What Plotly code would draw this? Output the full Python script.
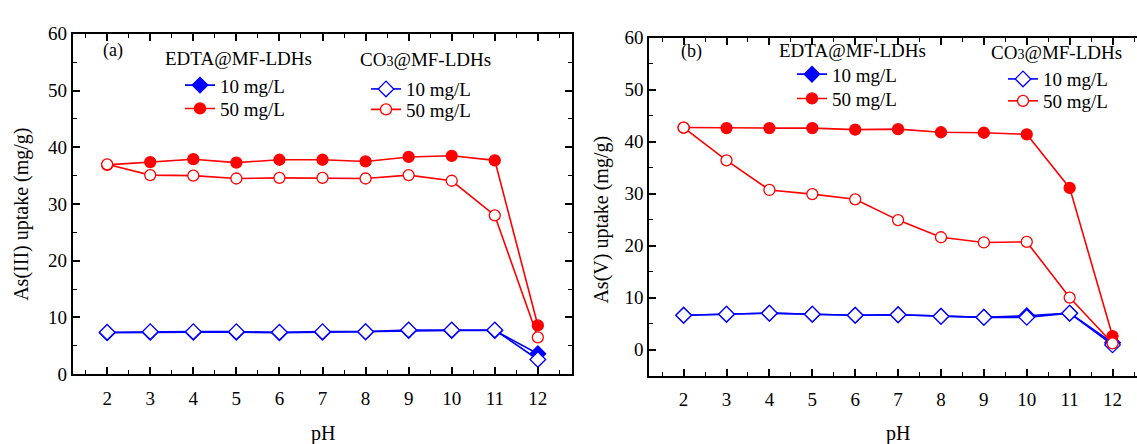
import plotly.graph_objects as go

# pH values shared by both panels
ph = [2, 3, 4, 5, 6, 7, 8, 9, 10, 11, 12]

# (a) As(III) uptake (mg/g)
as3_edta_10 = [7.3, 7.4, 7.4, 7.4, 7.3, 7.4, 7.5, 7.7, 7.7, 7.7, 3.6]
as3_edta_50 = [36.9, 37.4, 37.9, 37.3, 37.8, 37.8, 37.5, 38.3, 38.5, 37.7, 8.6]
as3_co3_10 = [7.4, 7.5, 7.5, 7.5, 7.4, 7.5, 7.5, 7.8, 7.8, 7.8, 2.6]
as3_co3_50 = [37.0, 35.1, 35.0, 34.5, 34.6, 34.6, 34.5, 35.1, 34.1, 28.0, 6.5]

# (b) As(V) uptake (mg/g)
as5_edta_10 = [6.6, 6.8, 7.0, 6.8, 6.6, 6.7, 6.4, 6.2, 6.5, 7.0, 1.3]
as5_edta_50 = [42.7, 42.6, 42.6, 42.6, 42.3, 42.4, 41.8, 41.7, 41.4, 31.1, 2.6]
as5_co3_10 = [6.6, 6.8, 7.0, 6.8, 6.6, 6.7, 6.4, 6.2, 6.2, 7.0, 0.9]
as5_co3_50 = [42.7, 36.4, 30.7, 29.9, 28.9, 24.9, 21.6, 20.6, 20.7, 10.0, 1.2]

x_ticks = [2, 3, 4, 5, 6, 7, 8, 9, 10, 11, 12]
y_ticks = [0, 10, 20, 30, 40, 50, 60]

FONT = "Liberation Serif"
BLUE = "#0000ff"
RED = "#ff0000"

W, H = 1137, 444


def px_x(p):
    return p / W


def px_y(p):
    return 1 - p / H


fig = go.Figure()


def add_series(xa, ya, y, color, symbol, filled, name, legend):
    fig.add_trace(go.Scatter(
        x=ph, y=y, xaxis=xa, yaxis=ya, name=name, legend=legend,
        mode="lines+markers",
        line=dict(color=color, width=1.6),
        marker=dict(symbol=symbol, size=12 if symbol == "diamond" else 11,
                    color=color if filled else "white",
                    line=dict(color=color, width=1.3)),
        cliponaxis=False,
    ))


# panel (a): one small legend box per entry
add_series("x", "y", as3_edta_10, BLUE, "diamond", True, "10 mg/L", "legend")
add_series("x", "y", as3_co3_10, BLUE, "diamond", False, "10 mg/L", "legend2")
add_series("x", "y", as3_edta_50, RED, "circle", True, "50 mg/L", "legend3")
add_series("x", "y", as3_co3_50, RED, "circle", False, "50 mg/L", "legend4")
# panel (b)
add_series("x2", "y2", as5_edta_10, BLUE, "diamond", True, "10 mg/L", "legend5")
add_series("x2", "y2", as5_co3_10, BLUE, "diamond", False, "10 mg/L", "legend6")
add_series("x2", "y2", as5_edta_50, RED, "circle", True, "50 mg/L", "legend7")
add_series("x2", "y2", as5_co3_50, RED, "circle", False, "50 mg/L", "legend8")

tick_font = dict(family=FONT, size=19, color="black")


def x_axis(domain, rng, anchor):
    return dict(
        domain=domain, range=rng, anchor=anchor,
        tickmode="array", tickvals=x_ticks, ticktext=[str(v) for v in x_ticks],
        ticks="inside", ticklen=7, tickwidth=1.8, tickcolor="black",
        minor=dict(ticks="inside", dtick=0.5, tick0=0.5, ticklen=4, tickwidth=1.3, tickcolor="black"),
        showline=True, linecolor="black", linewidth=2, mirror="ticks",
        showgrid=False, zeroline=False, tickfont=tick_font, ticklabelstandoff=6,
    )


def y_axis(domain, rng, anchor, mirror):
    return dict(
        domain=domain, range=rng, anchor=anchor,
        tickmode="array", tickvals=y_ticks, ticktext=[str(v) for v in y_ticks],
        ticks="inside", ticklen=7, tickwidth=1.8, tickcolor="black",
        minor=dict(ticks="inside", dtick=5, tick0=0, ticklen=4, tickwidth=1.3, tickcolor="black"),
        showline=True, linecolor="black", linewidth=2, mirror=mirror,
        showgrid=False, zeroline=False, tickfont=tick_font,
    )


def legend_box(x, y):
    return dict(
        x=px_x(x), y=px_y(y), xanchor="left", yanchor="middle",
        bgcolor="rgba(0,0,0,0)", borderwidth=0,
        font=dict(family=FONT, size=19, color="black"),
        itemwidth=30, tracegroupgap=0,
    )


fig.update_layout(
    width=W, height=H, autosize=False,
    margin=dict(l=0, r=0, t=0, b=0),
    paper_bgcolor="white", plot_bgcolor="white",
    xaxis=x_axis([px_x(72.7), px_x(572.3)], [1.2, 12.8], "y"),
    yaxis=y_axis([px_y(382.3), px_y(25)], [0, 60], "x", "ticks"),
    xaxis2=x_axis([px_x(649.3), 1.0], [1.2, 12.57], "y2"),
    yaxis2=y_axis([px_y(383.7), px_y(29)], [-5, 60], "x2", False),
    legend=legend_box(180, 79),
    legend2=legend_box(366, 83),
    legend3=legend_box(180, 103.5),
    legend4=legend_box(366, 104.5),
    legend5=legend_box(792, 67.5),
    legend6=legend_box(1003, 72.5),
    legend7=legend_box(792, 93),
    legend8=legend_box(1003, 95.5),
    showlegend=True,
)

co3_title = "CO<span style='font-size:14px'>3</span>@MF-LDHs"
label_font = dict(family=FONT, size=20, color="black")
title_font = dict(family=FONT, size=19, color="black")
annotations = [
    dict(text="(a)", x=px_x(113), y=px_y(43), font=dict(family=FONT, size=18, color="black")),
    dict(text="(b)", x=px_x(691), y=px_y(44), font=dict(family=FONT, size=18, color="black")),
    dict(text="EDTA@MF-LDHs", x=px_x(238.5), y=px_y(50.5), font=title_font),
    dict(text=co3_title, x=px_x(425), y=px_y(51.5), font=title_font),
    dict(text="EDTA@MF-LDHs", x=px_x(852.5), y=px_y(42.5), font=title_font),
    dict(text=co3_title, x=px_x(1056.5), y=px_y(45), font=title_font),
    dict(text="As(III) uptake (mg/g)", x=px_x(22), y=px_y(215), textangle=-90, font=label_font),
    dict(text="As(V) uptake (mg/g)", x=px_x(602), y=px_y(220), textangle=-90, font=label_font),
    dict(text="pH", x=px_x(323), y=px_y(444), font=label_font),
    dict(text="pH", x=px_x(898), y=px_y(444), font=label_font),
]
for a in annotations:
    a.update(xref="paper", yref="paper", showarrow=False, xanchor="center", yanchor="middle")
fig.update_layout(annotations=annotations)

fig.write_html("out.html")
